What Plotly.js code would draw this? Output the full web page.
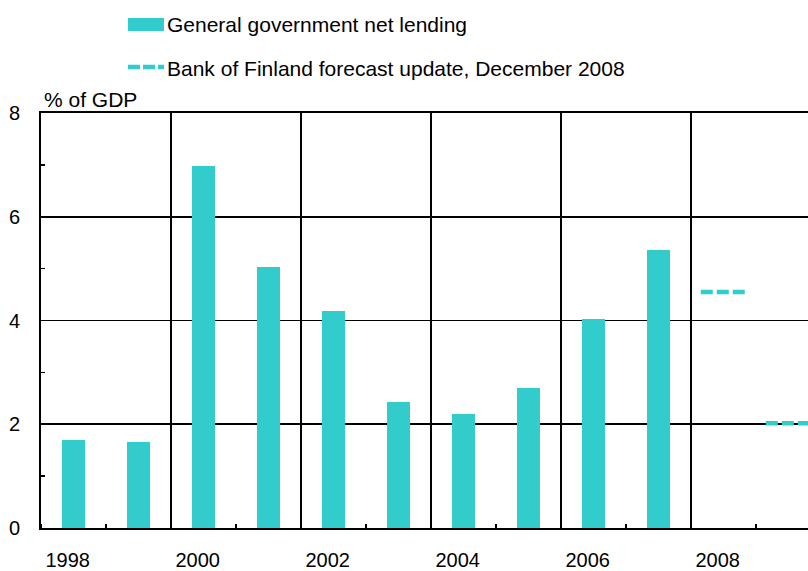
<!DOCTYPE html>
<html>
<head>
<meta charset="utf-8">
<script src="https://cdn.plot.ly/plotly-3.0.1.min.js"></script>
<style>
html,body{margin:0;padding:0;background:#fff;}
#chart{width:808px;height:571px;}
</style>
</head>
<body>
<div id="chart"></div>
<script>
// ---- data ----
const barYears = [1998, 1999, 2000, 2001, 2002, 2003, 2004, 2005, 2006, 2007];
const netLending = [1.69, 1.65, 6.98, 5.04, 4.18, 2.42, 2.19, 2.69, 4.02, 5.36];
const forecastYears = [2008, 2009];
const forecastValues = [4.55, 2.02];
const tickYears = [1998, 2000, 2002, 2004, 2006, 2008];
const tickLabels = ['1998', '2000', '2002', '2004', '2006', '2008'];
const yTicks = [0, 2, 4, 6, 8];
const seriesNames = ['General government net lending', 'Bank of Finland forecast update, December 2008'];
const unitLabel = '% of GDP';

// ---- style ----
const TEAL = '#33CCCC';
const FONT = 'Liberation Sans, Arial, sans-serif';
const FS = 20;
const FS_LEG = 21;
const L = 41, R = 0, T = 113, B = 43, W = 808, H = 571;
const plotW = W - L - R, plotH = H - T - B;
const px = x => (x - L) / plotW;
const py = y => (H - B - y) / plotH;

const traces = [{
  type: 'bar',
  x: barYears,
  y: netLending,
  width: 0.35,
  marker: {color: TEAL, line: {width: 0}},
  name: seriesNames[0],
  showlegend: false,
  hoverinfo: 'x+y'
}];

// forecast segments spanning each forecast year
const halfSpan = 0.35;
forecastYears.forEach((yr, i) => {
  traces.push({
    type: 'scatter',
    mode: 'lines',
    x: [yr - halfSpan, yr + halfSpan],
    y: [forecastValues[i], forecastValues[i]],
    line: {color: TEAL, width: 4.5, dash: '12px,4px'},
    name: seriesNames[1],
    showlegend: false
  });
});

// invisible helper trace so the gridline axis x2 is drawn
traces.push({type: 'scatter', x: [1998], y: [0], xaxis: 'x2', mode: 'markers', marker: {opacity: 0}, hoverinfo: 'skip', showlegend: false});

const xRange = [1997.5, 1997.5 + 12 * plotW / 780];

const layout = {
  width: W, height: H,
  margin: {l: L, r: R, t: T, b: B, pad: 0},
  paper_bgcolor: '#fff',
  plot_bgcolor: '#fff',
  font: {family: FONT, size: FS, color: '#000'},
  showlegend: false,
  bargap: 0,
  xaxis: {
    range: xRange,
    tickmode: 'array',
    tickvals: tickYears.map(y => y - 0.09),
    ticktext: tickLabels,
    ticks: '',
    showgrid: false,
    zeroline: false,
    showline: true,
    linecolor: '#000',
    linewidth: 2,
    mirror: true,
    ticklabelstandoff: 13,
    tickfont: {family: FONT, size: FS, color: '#000'},
    minor: {tick0: 1997.5, dtick: 1, ticks: 'inside', ticklen: 4, tickwidth: 1.5, tickcolor: '#000', showgrid: false}
  },
  xaxis2: {
    overlaying: 'x',
    matches: 'x',
    range: xRange,
    tick0: 1999.5, dtick: 2,
    showgrid: true,
    gridcolor: '#000',
    gridwidth: 1.8,
    showticklabels: false,
    ticks: '',
    zeroline: false,
    showline: false,
    side: 'bottom'
  },
  yaxis: {
    range: [0, 8],
    tickmode: 'array',
    tickvals: yTicks,
    showgrid: true,
    gridcolor: '#000',
    gridwidth: 1.8,
    zeroline: false,
    showline: true,
    linecolor: '#000',
    linewidth: 2,
    ticks: '',
    ticklabelstandoff: 15,
    tickfont: {family: FONT, size: FS, color: '#000'},
    minor: {tickvals: [1, 3, 5, 7], ticks: 'inside', ticklen: 4, tickwidth: 1.5, tickcolor: '#000', showgrid: false}
  },
  shapes: [
    {type: 'rect', xref: 'paper', yref: 'paper', x0: px(128), x1: px(164), y0: py(31), y1: py(18),
     fillcolor: TEAL, line: {width: 0}},
    {type: 'line', xref: 'paper', yref: 'paper', x0: px(128), x1: px(164), y0: py(67), y1: py(67),
     line: {color: TEAL, width: 4.5, dash: '12px,3px'}}
  ],
  annotations: [
    {xref: 'paper', yref: 'paper', x: px(165), y: py(25), xanchor: 'left', yanchor: 'middle',
     text: seriesNames[0], showarrow: false, font: {family: FONT, size: FS_LEG, color: '#000'}},
    {xref: 'paper', yref: 'paper', x: px(165), y: py(68), xanchor: 'left', yanchor: 'middle',
     text: seriesNames[1], showarrow: false, font: {family: FONT, size: FS_LEG, color: '#000'}},
    {xref: 'paper', yref: 'paper', x: px(42), y: py(99), xanchor: 'left', yanchor: 'middle',
     text: unitLabel, showarrow: false, font: {family: FONT, size: FS_LEG, color: '#000'}}
  ]
};

Plotly.newPlot('chart', traces, layout, {staticPlot: true, displayModeBar: false});
</script>
</body>
</html>
